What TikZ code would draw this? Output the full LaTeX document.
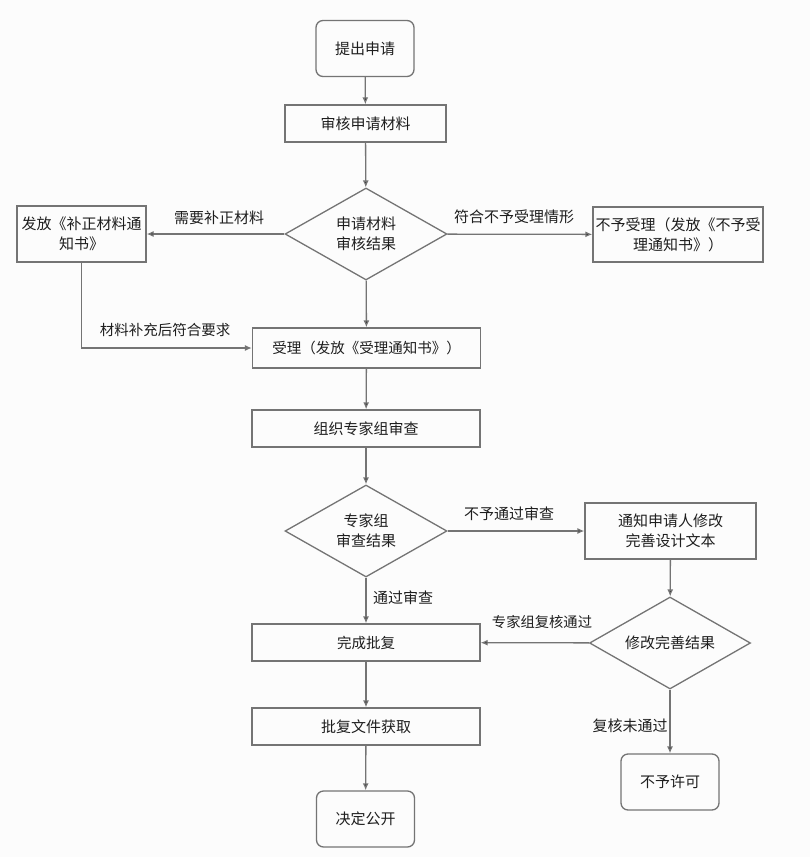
\documentclass[tikz,border=0pt]{standalone}
\usepackage{fontspec}
\setmainfont{Noto Sans CJK SC}
\usetikzlibrary{arrows.meta}
\usetikzlibrary{shapes.geometric}
\definecolor{linegray}{HTML}{747474}
\definecolor{textgray}{HTML}{1E1E1E}
\definecolor{pagegray}{HTML}{FCFCFC}

\begin{document}
\begin{tikzpicture}[x=1pt,y=-1pt]
  \tikzset{proc/.style = {shape=rectangle,draw=linegray,line width=1.3pt,inner sep=0pt,align=center,text=textgray,font=\fontsize{15}{20}\selectfont}}
  \tikzset{term/.style = {proc,rounded corners=7pt,minimum width=98pt,minimum height=56pt}}
  \tikzset{wide/.style = {proc,minimum width=228pt,minimum height=37pt}}
  \tikzset{judge/.style = {proc,shape=diamond,aspect=1.76,minimum width=162pt,minimum height=92pt}}
  \tikzset{lab/.style = {inner sep=0pt,text=textgray,font=\fontsize{15}{20}\selectfont}}
  \tikzset{edge/.style = {-{Latex[length=7pt,width=6pt]},draw=linegray,line width=1.3pt}}

  \fill[pagegray] (0,0) rectangle (810,857);
  \useasboundingbox (0,0) rectangle (810,857);

	\node[term] (apply) at (365,48.5) {提出申请};
	\node[proc,minimum width=161pt,minimum height=37pt] (check) at (365.5,123.5) {审核申请材料};
	\node[judge] (result) at (366,234) {申请材料\\审核结果};
	\node[proc,minimum width=129pt,minimum height=56pt] (fix) at (81.5,234) {发放《补正材料通\\知书》};
	\node[proc,minimum width=170pt,minimum height=55pt] (refuse) at (678,234.5) {不予受理（发放《不予受\\理通知书》）};
	\node[wide,minimum height=40pt,font=\fontsize{14.5}{18}\selectfont] (accept) at (366.5,348) {受理（发放《受理通知书》）};
	\node[wide] (group) at (366,428.5) {组织专家组审查};
	\node[judge] (review) at (366,531) {专家组\\审查结果};
	\node[proc,minimum width=171pt,minimum height=56pt] (notify) at (670.5,531) {通知申请人修改\\完善设计文本};
	\node[judge,minimum width=161pt] (modify) at (670,643) {修改完善结果};
	\node[wide,font=\fontsize{14.5}{18}\selectfont] (reply) at (366,642.5) {完成批复};
	\node[wide] (file) at (366,726.5) {批复文件获取};
	\node[term] (open) at (365.5,819) {决定公开};
	\node[term] (deny) at (670,782) {不予许可};

	\node[lab] (lneed) at (219,218) {需要补正材料};
	\node[lab] (lno) at (514,217) {符合不予受理情形};
	\node[lab,font=\fontsize{14.5}{18}\selectfont] (lfit) at (165,329.5) {材料补充后符合要求};
	\node[lab] (lfail) at (509,514) {不予通过审查};
	\node[lab] (lpass) at (403,597.5) {通过审查};
	\node[lab,font=\fontsize{14.3}{18}\selectfont] (lok) at (542,622.5) {专家组复核通过};
	\node[lab] (lnot) at (630,725.5) {复核未通过};

       \foreach \from/\to in {apply/check, check/result, result/fix, result/refuse, result/accept, accept/group, group/review, review/notify, notify/modify, modify/deny, review/reply, modify/reply, reply/file, file/open}
    \path[edge](\from) edge (\to);
	\draw[edge] (fix.south) |- (accept.west);
\end{tikzpicture}
\end{document}
